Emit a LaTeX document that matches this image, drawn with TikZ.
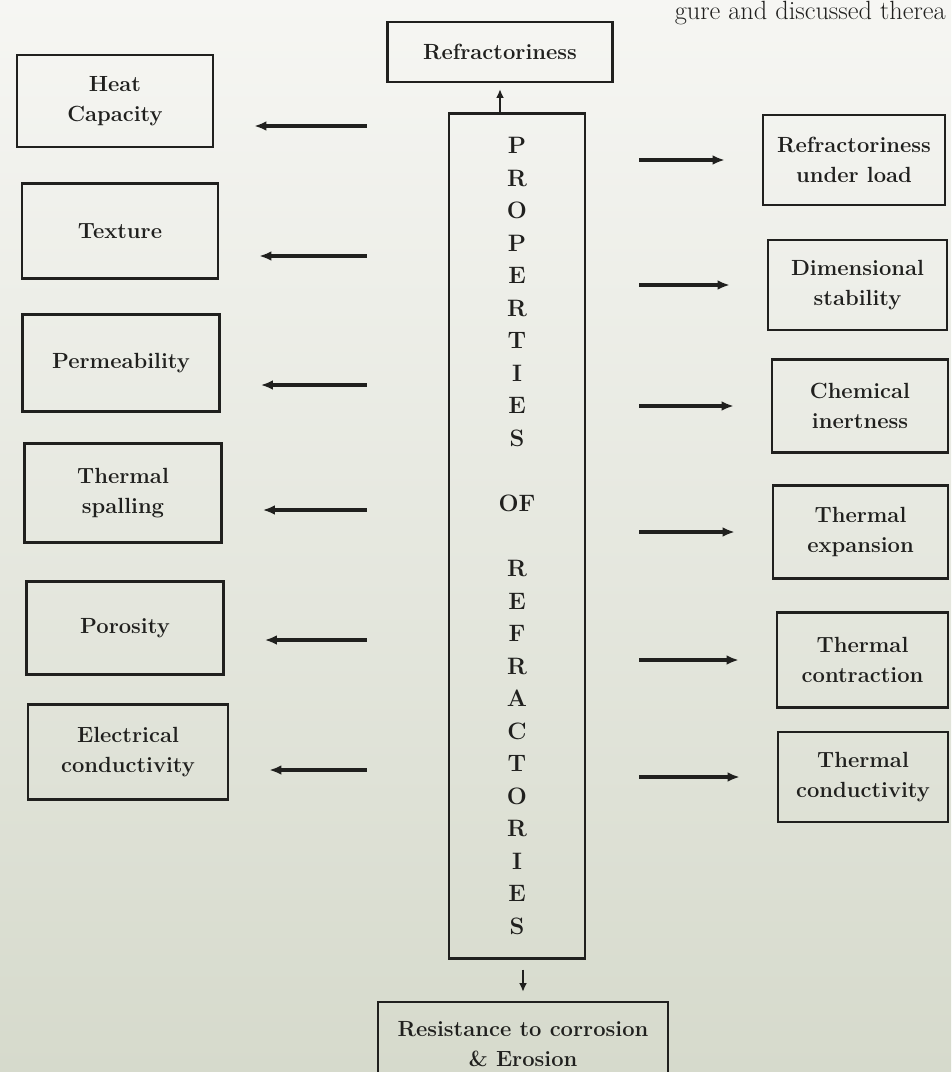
\documentclass[tikz,border=0pt]{standalone}
\usepackage{tikz}
\usetikzlibrary{arrows.meta}

\definecolor{paper}{RGB}{246,246,243}
\definecolor{papermid}{RGB}{238,239,233}
\definecolor{paperlow}{RGB}{214,218,204}
\definecolor{ink}{RGB}{32,32,30}

\begin{document}
\begin{tikzpicture}[x = 0.02 cm, y = -0.02 cm,
	 box/.style = {draw = ink, line width = 1.3 pt, align = center, inner sep = 2 pt, text = ink, font = \fontsize{12.5}{17}\selectfont\bfseries},
	 arr/.style = {draw = ink, line width = 1.9 pt, -{Latex[length=7pt, width=5.5pt]}},
	 smallarr/.style = {draw = ink, line width = 1.6 pt, -{Latex[length=5pt, width=4.5pt]}}]
	 \useasboundingbox (0, 0) rectangle (951, 1072);
	 \clip (0, 0) rectangle (951, 1072);
	 \shade[top color = paper, middle color = papermid, bottom color = paperlow] (0, 0) rectangle (951, 1072);
	 
	 \node[anchor = base east, inner sep = 0, text = ink, font = \fontsize{15}{18}\selectfont] (ptext) at (946, 19) {gure and discussed therea};
	 
	 \node[box, minimum width = 4.5 cm, minimum height = 1.2 cm] (refr) at (500, 52) {Refractoriness};
	 
	 \node[box, minimum width = 2.72 cm, minimum height = 16.9 cm, font = \fontsize{13.5}{18.5}\selectfont\bfseries] (props) at (517, 536)
	 {P\\R\\O\\P\\E\\R\\T\\I\\E\\S\\[18.5pt]OF\\[18.5pt]R\\E\\F\\R\\A\\C\\T\\O\\R\\I\\E\\S};
	 
	 \node[box, minimum width = 3.92 cm, minimum height = 1.84 cm] (heat) at (115, 101) {Heat\\Capacity};
	 \node[box, minimum width = 3.92 cm, minimum height = 1.9 cm] (texture) at (120, 231) {Texture};
	 \node[box, minimum width = 3.94 cm, minimum height = 1.94 cm] (perm) at (121, 363) {Permeability};
	 \node[box, minimum width = 3.94 cm, minimum height = 1.98 cm] (spal) at (123, 493) {Thermal\\spalling};
	 \node[box, minimum width = 3.94 cm, minimum height = 1.86 cm] (poro) at (125, 628) {Porosity};
	 \node[box, minimum width = 4.0 cm, minimum height = 1.9 cm] (elec) at (128, 752) {Electrical\\conductivity};
	 
	 \node[box, minimum width = 3.64 cm, minimum height = 1.8 cm] (rul) at (854, 160) {Refractoriness\\under load};
	 \node[box, minimum width = 3.58 cm, minimum height = 1.8 cm] (dims) at (857.5, 285) {Dimensional\\stability};
	 \node[box, minimum width = 3.52 cm, minimum height = 1.86 cm] (chem) at (860, 406) {Chemical\\inertness};
	 \node[box, minimum width = 3.5 cm, minimum height = 1.86 cm] (texp) at (860.5, 532) {Thermal\\expansion};
	 \node[box, minimum width = 3.42 cm, minimum height = 1.9 cm] (tcon) at (862.5, 660) {Thermal\\contraction};
	 \node[box, minimum width = 3.4 cm, minimum height = 1.8 cm] (tcond) at (863, 777) {Thermal\\conductivity};
	 
	 \node[box, minimum width = 5.8 cm, minimum height = 1.68 cm] (res) at (523, 1044) {Resistance to corrosion\\\& Erosion};
	 
	 \foreach \n/\y in {heat/126, texture/256, perm/385, spal/510, poro/640, elec/770}
	 \draw[arr, shorten <= 1.62 cm, shorten >= 0.8 cm] (props.west |- 0, \y) -- (\n.east |- 0, \y);
	 
	 \foreach \n in {rul, dims, chem, texp, tcon, tcond}
	 \draw[arr, shorten <= 1.06 cm, shorten >= 0.74 cm] (props.east |- \n.west) -- (\n.west);
	 
	 \draw[smallarr, shorten >= 0.12 cm] (refr.south |- props.north) -- (refr.south);
	 \draw[smallarr, shorten <= 0.2 cm, shorten >= 0.18 cm] (res.north |- props.south) -- (res.north);
\end{tikzpicture}
\end{document}
